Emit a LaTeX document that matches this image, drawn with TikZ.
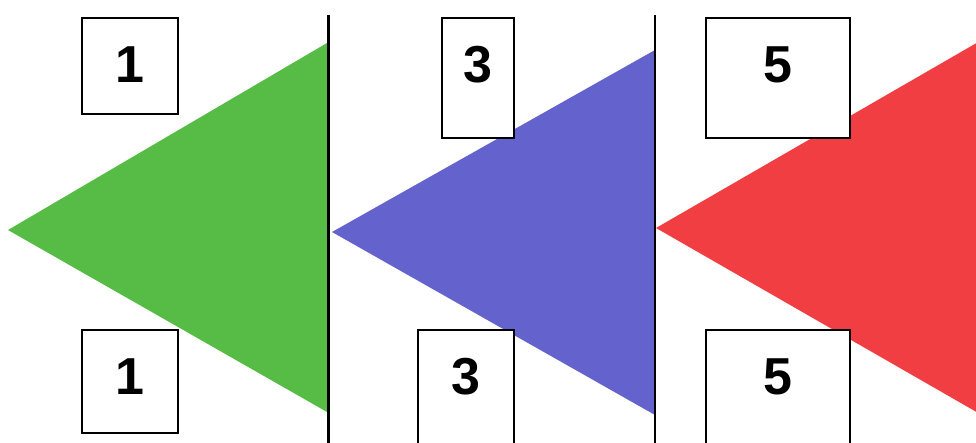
\documentclass[tikz,border=0pt]{standalone}
\usepackage{fontspec}
\setmainfont{Liberation Sans}
\definecolor{WedgeGreen}{RGB}{86,188,70}
\definecolor{WedgeBlue}{RGB}{100,98,204}
\definecolor{WedgeRed}{RGB}{240,62,66}
\usetikzlibrary{positioning}
\begin{document}
\begin{tikzpicture}[x=1pt, y=-1pt,
      every node/.style={font=\fontsize{52}{52}\selectfont\bfseries, align=center},
      numbox/.style={draw, fill=white, line width=1.8pt, inner sep=0pt, anchor=north west, text height=65pt},
      wedge/.style={draw=none},
      divider/.style={draw=black, line width=#1}
  ]
    \useasboundingbox (0,0) rectangle (976,443);
    \clip (0,0) rectangle (976,443);
    \fill[wedge, WedgeGreen] (8,230) -- (327,43) -- (327,412) -- cycle;
    \fill[wedge, WedgeBlue] (332,232) -- (655,50) -- (655,415) -- cycle;
    \fill[wedge, WedgeRed] (656,228) -- (980,41) -- (980,414) -- cycle;
    \draw[divider=3pt] (328,15) -- (328,443);
    \draw[divider=1.2pt] (655,15) -- (655,443);
    \node[numbox, minimum width=96pt, text depth=31pt] (one top) at (81,17) {1};
    \node[numbox, minimum width=96pt, text depth=38pt] (one bottom) at (81,329) {1};
    \node[numbox, minimum width=72pt, text depth=55pt] (three top) at (441,17) {3};
    \node[numbox, minimum width=96pt, text depth=65pt] (three bottom) at (417,329) {3};
    \node[numbox, minimum width=144pt, text depth=55pt] (five top) at (705,17) {5};
    \node[numbox, minimum width=144pt, text depth=65pt] (five bottom) at (705,329) {5};
  \end{tikzpicture}
\end{document}
